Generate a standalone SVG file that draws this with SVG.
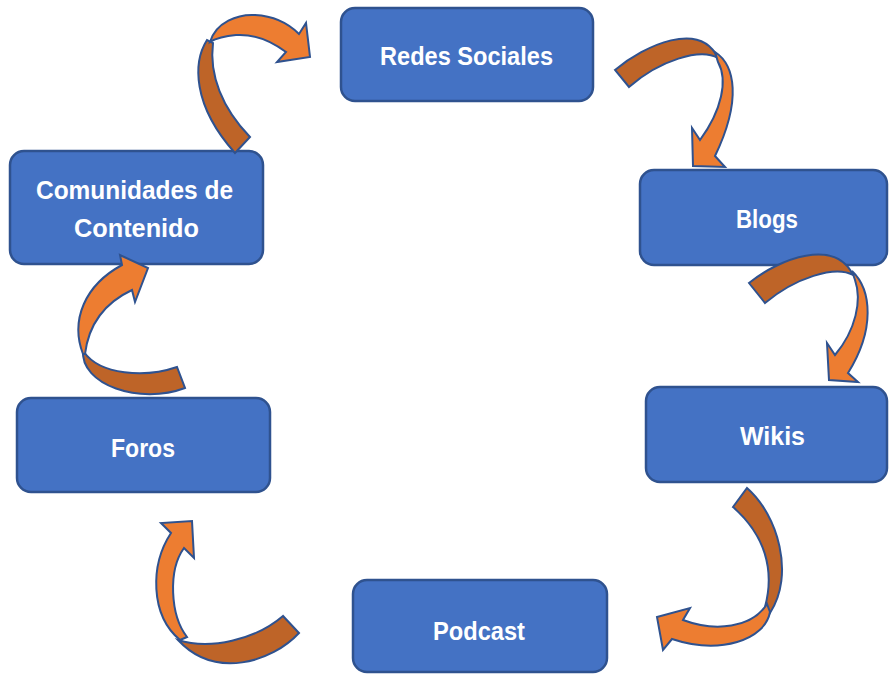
<svg xmlns="http://www.w3.org/2000/svg" width="890" height="674" viewBox="0 0 890 674">
  <style>
    .box { fill: #4472C4; stroke: #2F528F; stroke-width: 2.5; }
    .lbl { fill: #FFFFFF; font-family: "Liberation Sans", Arial, sans-serif; font-weight: bold; font-size: 25px; text-anchor: middle; }
    .back { fill: #BE6428; stroke: #2F528F; stroke-width: 2; stroke-linejoin: miter; }
    .front { fill: #ED7D31; stroke: #2F528F; stroke-width: 2; stroke-linejoin: miter; }
  </style>
  <rect width="890" height="674" fill="#FFFFFF"/>

  <g id="redes-sociales">
    <rect class="box" x="341" y="8" width="252" height="93" rx="14"/>
    <text class="lbl" x="466.5" y="65" textLength="173" lengthAdjust="spacingAndGlyphs">Redes Sociales</text>
  </g>
  <g id="blogs">
    <rect class="box" x="640" y="170" width="247" height="95" rx="14"/>
    <text class="lbl" x="767" y="228" textLength="62" lengthAdjust="spacingAndGlyphs">Blogs</text>
  </g>
  <g id="wikis">
    <rect class="box" x="646" y="387" width="241" height="95" rx="14"/>
    <text class="lbl" x="772.5" y="445" textLength="65" lengthAdjust="spacingAndGlyphs">Wikis</text>
  </g>
  <g id="podcast">
    <rect class="box" x="353" y="580" width="254" height="92" rx="14"/>
    <text class="lbl" x="479" y="640" textLength="92" lengthAdjust="spacingAndGlyphs">Podcast</text>
  </g>
  <g id="foros">
    <rect class="box" x="17" y="398" width="253" height="94" rx="14"/>
    <text class="lbl" x="143" y="457" textLength="64" lengthAdjust="spacingAndGlyphs">Foros</text>
  </g>
  <g id="comunidades">
    <rect class="box" x="10" y="151" width="253" height="113" rx="14"/>
    <text class="lbl" x="134.5" y="199" textLength="197" lengthAdjust="spacingAndGlyphs">Comunidades de</text>
    <text class="lbl" x="136.5" y="237" textLength="125" lengthAdjust="spacingAndGlyphs">Contenido</text>
  </g>

  <g id="connectors">
    <!-- Comunidades de Contenido to Redes Sociales -->
    <path class="back" d="M207,40 C193,62 192,105 235,153 L250,137 C222,108 209,75 213,43 Z"/>
    <path class="front" d="M210,42 C216,22 238,14 255,15 C275,16 290,25 299,34 L306,23 L310,57 L277,62 L286,52 C270,40 252,34 236,35 C224,36 215,39 210,42 Z"/>

    <!-- Redes Sociales to Blogs -->
    <path class="back" d="M615,70 C645,45 700,20 718,58 C700,48 660,60 629,87 Z"/>
    <path class="front" d="M715,52 C735,65 742,100 715,156 L725,167 L693,166 L692,128 L700,140 C722,110 728,80 718,62 Z"/>

    <!-- Blogs to Wikis -->
    <path class="back" d="M749,283 C780,258 835,238 853,275 C835,265 795,278 765,303 Z"/>
    <path class="front" d="M852,271 C872,290 875,330 848,373 L858,382 L829,380 L827,343 L835,355 C856,330 862,300 855,280 Z"/>

    <!-- Wikis to Podcast -->
    <path class="back" d="M733,507 L747,488 C778,515 795,575 770,613 L765,607 C775,570 765,535 733,507 Z"/>
    <path class="front" d="M770,612 C765,640 720,655 672,639 L663,650 L657,617 L690,608 L683,620 C715,632 752,628 767,604 Z"/>

    <!-- Podcast to Foros -->
    <path class="back" d="M299,633 C272,662 215,680 178,640 C210,650 255,640 283,616 Z"/>
    <path class="front" d="M180,640 C150,615 150,565 171,533 L161,523 L192,521 L194,558 L184,548 C168,570 170,615 187,637 Z"/>

    <!-- Foros to Comunidades de Contenido -->
    <path class="back" d="M83,350 C80,385 140,405 185,388 L177,367 C145,378 100,375 84,352 Z"/>
    <path class="front" d="M83,354 C70,320 85,285 122,265 L120,255 L148,268 L135,302 L132,290 C100,305 88,330 85,354 Z"/>
  </g>
</svg>
